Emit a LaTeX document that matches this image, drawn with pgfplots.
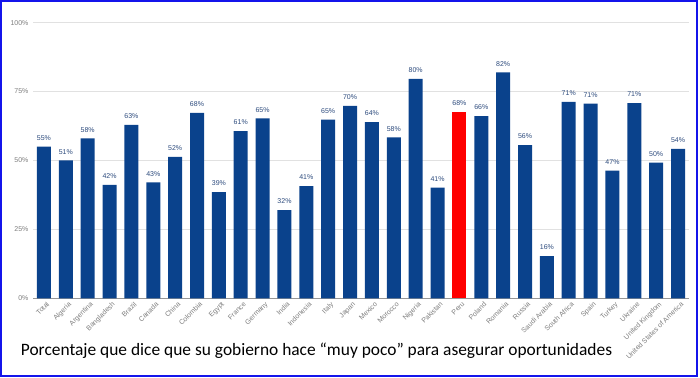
\documentclass[border=0pt]{standalone}
\usepackage{pgfplots}
\pgfplotsset{compat=1.18}
\usepackage{pgfplotstable}
\usepackage{fontspec}
\setmainfont{Liberation Sans}
\newfontfamily\capfont{Carlito}

\definecolor{barblue}{RGB}{10,66,140}
\definecolor{lblblue}{RGB}{45,75,125}
\definecolor{ticklbl}{RGB}{125,125,125}
\definecolor{gridc}{RGB}{225,225,225}
\definecolor{basec}{RGB}{150,150,150}
\definecolor{frameblue}{RGB}{20,20,235}

\pgfplotstableread{
x y lab
0 55.0 55
1 50.0 51
2 58.0 58
3 41.2 42
4 62.9 63
5 42.1 43
6 51.3 52
7 67.3 68
8 38.5 39
9 60.7 61
10 65.3 65
11 32.0 32
12 40.7 41
13 64.8 65
14 69.8 70
15 63.9 64
16 58.4 58
17 79.6 80
18 40.2 41
20 66.1 66
21 82.0 82
22 55.6 56
23 15.3 16
24 71.3 71
25 70.6 71
26 46.3 47
27 70.8 71
28 49.2 50
29 54.2 54
}\bluedata

\pgfplotstableread{
x y lab
19 67.6 68
}\perudata

\begin{document}
\begin{tikzpicture}
\path[use as bounding box] (0,0) rectangle (700pt,377pt);
\draw[frameblue, line width=2pt] (1pt,1pt) rectangle (697pt,376pt);
\begin{axis}[
  at={(33pt,78.7pt)}, anchor=south west,
  scale only axis, width=656pt, height=275.6pt,
  xmin=-0.5, xmax=29.5, ymin=0, ymax=100,
  ybar, bar width=14pt, bar shift=0pt,
  axis x line=bottom, axis y line=left,
  y axis line style={draw=none},
  x axis line style={draw=basec, line width=0.8pt, -},
  major tick length=0pt,
  ymajorgrids, grid style={gridc, line width=0.8pt},
  ytick={0,25,50,75,100},
  yticklabel={\pgfmathprintnumber{\tick}\%},
  /pgf/number format/assume math mode=true,
  yticklabel style={font=\fontsize{7}{8}\selectfont, text=ticklbl, xshift=-1pt},
  xtick={0,...,29},
  xticklabels={Total,Algeria,Argentina,Bangladesh,Brazil,Canada,China,Colombia,Egypt,France,Germany,India,Indonesia,Italy,Japan,Mexico,Morocco,Nigeria,Pakistan,Peru,Poland,Romania,Russia,Saudi Arabia,South Africa,Spain,Turkey,Ukraine,United Kingdom,United States of America},
  xticklabel style={rotate=45, anchor=north east, font=\fontsize{7}{8}\selectfont, text=ticklbl, inner sep=1pt, xshift=0.5pt, yshift=-2.5pt},
  clip=false,
  nodes near coords={\pgfplotspointmeta\%},
  point meta=explicit symbolic,
  every node near coord/.append style={font=\fontsize{7}{8}\selectfont, text=lblblue, anchor=south, inner sep=0pt, yshift=6pt},
]
\addplot[fill=barblue, draw=none] table[x=x, y=y, meta=lab] {\bluedata};
\addplot[fill=red, draw=none] table[x=x, y=y, meta=lab] {\perudata};
\end{axis}
\node[anchor=base west, inner sep=0pt, font=\capfont\fontsize{17.4}{20}\selectfont] at (20.7pt,22pt) {Porcentaje que dice que su gobierno hace “muy poco” para asegurar oportunidades};
\end{tikzpicture}
\end{document}
